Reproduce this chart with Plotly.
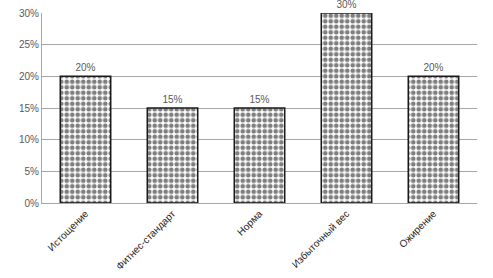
import plotly.graph_objects as go

categories = ["Истощение", "Фитнес-стандарт", "Норма", "Избыточный вес", "Ожирение"]
values = [20, 15, 15, 30, 20]
tick_vals = [0, 5, 10, 15, 20, 25, 30]
tick_text = [f"{v}%" for v in tick_vals]
bar_text = [f"{v}%" for v in values]

fig = go.Figure(go.Bar(
    x=categories, y=values,
    width=0.58,
    text=bar_text, textposition="outside",
    textfont=dict(family="Liberation Sans, Arial", size=10, color="#595959"),
    marker=dict(
        color="#ffffff",
        line=dict(color="#1a1a1a", width=1.5),
        pattern=dict(shape=".", fgcolor="#000000", bgcolor="#ffffff", size=5.5, solidity=0.55),
    ),
    cliponaxis=False,
))

fig.update_layout(
    width=493, height=278,
    margin=dict(l=42, r=16, t=13, b=75),
    plot_bgcolor="white", paper_bgcolor="white",
    showlegend=False,
    font=dict(family="Liberation Sans, Arial", size=10, color="#595959"),
)
fig.update_yaxes(range=[0, 30], tickvals=tick_vals, ticktext=tick_text,
                 showgrid=True, gridcolor="#a6a6a6", gridwidth=1,
                 showline=True, linecolor="#a6a6a6", zeroline=False,
                 ticks="", automargin=False,
                 tickfont=dict(size=10, color="#595959"))
fig.update_xaxes(tickangle=-45, showline=True, linecolor="#a6a6a6",
                 automargin=False, ticks="",
                 tickfont=dict(size=10, color="#262626"))

fig.write_html("out.html", config={"displayModeBar": False},
               post_script="document.body.style.margin='0';")
